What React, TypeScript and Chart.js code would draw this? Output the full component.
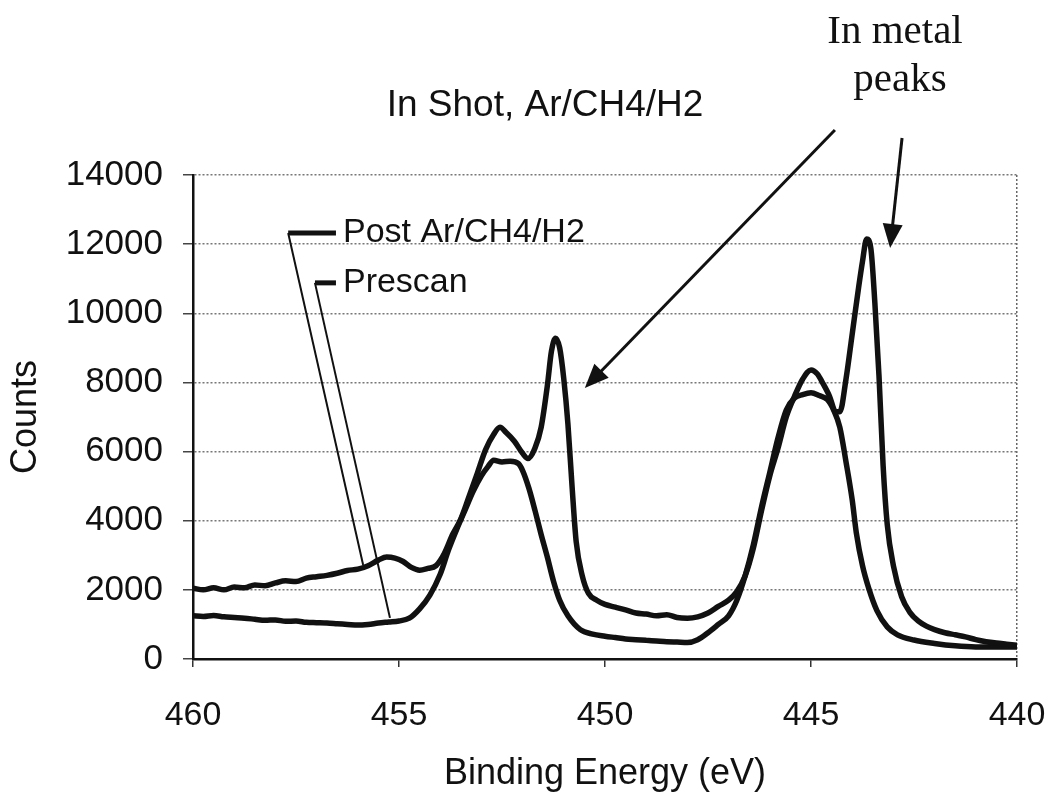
import React, { useEffect, useRef } from "react";
import { Chart, registerables } from "chart.js";

Chart.register(...registerables);

// Binding energy (eV) and counts
const postEnergy = [
  460.0, 459.75, 459.5, 459.25, 459.0, 458.75, 458.5, 458.25, 458.0, 457.75, 457.5, 457.25, 457.0,
  456.75, 456.5, 456.25, 456.0, 455.75, 455.5, 455.3, 455.1, 454.9, 454.7, 454.5, 454.3, 454.1,
  453.9, 453.7, 453.5, 453.3, 453.1, 452.9, 452.7, 452.55, 452.4, 452.2, 452.0, 451.87, 451.7,
  451.55, 451.4, 451.3, 451.2, 451.1, 451.0, 450.9, 450.8, 450.7, 450.55, 450.4, 450.2, 450.0,
  449.75, 449.5, 449.25, 449.0, 448.75, 448.5, 448.25, 448.0, 447.75, 447.5, 447.25, 447.0, 446.8,
  446.6, 446.4, 446.2, 446.0, 445.8, 445.6, 445.4, 445.2, 445.0, 444.85, 444.7, 444.55, 444.4,
  444.3, 444.15, 444.0, 443.85, 443.75, 443.65, 443.55, 443.45, 443.35, 443.25, 443.15, 443.0,
  442.8, 442.6, 442.4, 442.2, 442.0, 441.75, 441.5, 441.25, 441.0, 440.75, 440.5, 440.25, 440.0,
];
const postCounts = [
  2050, 2000, 2060, 2000, 2080, 2060, 2140, 2120, 2200, 2260, 2240, 2340, 2380,
  2420, 2480, 2560, 2600, 2700, 2860, 2950, 2920, 2820, 2650, 2570, 2620, 2700,
  3050, 3600, 4050, 4700, 5370, 6050, 6500, 6700, 6550, 6300, 5950, 5800, 6100,
  6700, 7900, 8900, 9280, 9000, 8100, 6800, 5000, 3400, 2400, 1900, 1700, 1580,
  1500, 1420, 1330, 1300, 1250, 1280, 1200, 1180, 1220, 1330, 1520, 1700, 1950,
  2400, 3200, 4300, 5300, 6100, 7000, 7600, 8100, 8360, 8250, 7950, 7600, 7150,
  7150, 8100, 9400, 10700, 11500, 12150, 11900, 10300, 8200, 5600, 3900, 2700,
  1800, 1350, 1100, 950, 850, 760, 700, 640, 560, 500, 460, 430, 400,
];

const preEnergy = [
  460.0, 459.75, 459.5, 459.25, 459.0, 458.75, 458.5, 458.25, 458.0, 457.75, 457.5, 457.25, 457.0,
  456.75, 456.5, 456.25, 456.0, 455.75, 455.5, 455.25, 455.0, 454.75, 454.5, 454.25, 454.0, 453.8,
  453.6, 453.4, 453.2, 453.0, 452.85, 452.7, 452.5, 452.3, 452.1, 452.0, 451.85, 451.7, 451.55,
  451.4, 451.25, 451.1, 450.9, 450.6, 450.3, 450.0, 449.75, 449.5, 449.25, 449.0, 448.75, 448.5,
  448.25, 448.0, 447.75, 447.5, 447.25, 447.0, 446.8, 446.6, 446.4, 446.2, 446.0, 445.8, 445.6,
  445.4, 445.2, 445.0, 444.8, 444.6, 444.45, 444.3, 444.15, 444.0, 443.9, 443.75, 443.6, 443.4,
  443.15, 442.9, 442.5, 442.0, 441.5, 441.0, 440.5, 440.0,
];
const preCounts = [
  1250, 1230, 1260, 1220, 1200, 1180, 1150, 1120, 1130, 1090, 1100, 1060, 1050,
  1040, 1020, 1000, 980, 1000, 1040, 1070, 1100, 1180, 1450, 1850, 2450, 3150,
  3750, 4300, 4850, 5300, 5550, 5750, 5700, 5720, 5650, 5450, 4950, 4300, 3600,
  2950, 2250, 1700, 1250, 850, 720, 660, 620, 580, 560, 540, 520, 500,
  490, 480, 560, 760, 1000, 1250, 1700, 2400, 3300, 4400, 5400, 6400, 7200,
  7550, 7650, 7700, 7620, 7500, 7200, 6700, 5700, 4600, 3650, 2700, 2050, 1400,
  930, 700, 550, 450, 380, 350, 350, 350,
];

const seriesNames = ["Post Ar/CH4/H2", "Prescan"];
const xTicks = [460, 455, 450, 445, 440];
const yTicks = [0, 2000, 4000, 6000, 8000, 10000, 12000, 14000];

const chartTitle = "In Shot, Ar/CH4/H2";
const noteLines = ["In metal", "peaks"];
const xTitle = "Binding Energy (eV)";
const yTitle = "Counts";

const SANS = "'Liberation Sans', Arial, sans-serif";
const SERIF = "'Liberation Serif', 'Times New Roman', serif";

const annotations = {
  id: "annotations",
  afterDatasetsDraw(chart: any) {
    const ctx = chart.ctx as CanvasRenderingContext2D;
    const xs = chart.scales.x;
    const ys = chart.scales.y;
    const px = (v: number) => xs.getPixelForValue(v);
    const py = (v: number) => ys.getPixelForValue(v);
    ctx.save();
    ctx.fillStyle = "#111";
    ctx.strokeStyle = "#111";

    // legend entries with leader lines
    const legend = [
      { name: seriesNames[0], sx: 457.69, sy: 12320, ex: 455.87, ey: 2720 },
      { name: seriesNames[1], sx: 457.04, sy: 10880, ex: 455.22, ey: 1190 },
    ];
    const segEnd = 456.53;
    legend.forEach((l) => {
      const x0 = px(l.sx);
      const y0 = py(l.sy);
      ctx.lineWidth = 2;
      ctx.beginPath();
      ctx.moveTo(x0, y0);
      ctx.lineTo(px(l.ex), py(l.ey));
      ctx.stroke();
      ctx.lineWidth = 5;
      ctx.beginPath();
      ctx.moveTo(x0, y0);
      ctx.lineTo(px(segEnd), y0);
      ctx.stroke();
      ctx.font = `34px ${SANS}`;
      ctx.textAlign = "left";
      ctx.textBaseline = "middle";
      ctx.fillText(l.name, px(segEnd) + 7, y0);
    });

    // arrows
    const arrow = (x1: number, y1: number, x2: number, y2: number) => {
      const ang = Math.atan2(y2 - y1, x2 - x1);
      const L = 24;
      const W = 10;
      ctx.lineWidth = 3;
      ctx.beginPath();
      ctx.moveTo(x1, y1);
      ctx.lineTo(x2 - Math.cos(ang) * L * 0.8, y2 - Math.sin(ang) * L * 0.8);
      ctx.stroke();
      ctx.beginPath();
      ctx.moveTo(x2, y2);
      ctx.lineTo(
        x2 - Math.cos(ang) * L - Math.sin(ang) * W,
        y2 - Math.sin(ang) * L + Math.cos(ang) * W
      );
      ctx.lineTo(
        x2 - Math.cos(ang) * L + Math.sin(ang) * W,
        y2 - Math.sin(ang) * L - Math.cos(ang) * W
      );
      ctx.closePath();
      ctx.fill();
    };
    arrow(px(444.42), py(15300), px(450.49), py(7840));
    arrow(px(442.79), py(15070), px(443.08), py(11890));

    // titles
    ctx.textAlign = "center";
    ctx.textBaseline = "middle";
    ctx.font = `37px ${SANS}`;
    ctx.fillText(chartTitle, 545, 106);
    ctx.font = `41px ${SERIF}`;
    ctx.fillText(noteLines[0], 895, 32);
    ctx.fillText(noteLines[1], 900, 80);
    ctx.restore();
  },
};

export default function App() {
  const canvasRef = useRef<HTMLCanvasElement | null>(null);

  useEffect(() => {
    const canvas = canvasRef.current;
    if (!canvas) return;
    const lineStyle = {
      borderColor: "#111",
      borderWidth: 5.5,
      pointRadius: 0,
      cubicInterpolationMode: "monotone" as const,
    };
    const chart = new Chart(canvas, {
      type: "line",
      data: {
        datasets: [
          {
            label: seriesNames[0],
            data: postEnergy.map((e, i) => ({ x: e, y: postCounts[i] })),
            ...lineStyle,
          },
          {
            label: seriesNames[1],
            data: preEnergy.map((e, i) => ({ x: e, y: preCounts[i] })),
            ...lineStyle,
          },
        ],
      },
      options: {
        animation: false,
        responsive: false,
        maintainAspectRatio: false,
        layout: { padding: { top: 175, right: 31, bottom: 0, left: 0 } },
        plugins: {
          legend: { display: false },
          tooltip: { enabled: false },
          title: { display: false },
        },
        scales: {
          x: {
            type: "linear",
            reverse: true,
            min: 440,
            max: 460,
            afterBuildTicks: (s: any) => {
              s.ticks = xTicks.map((v) => ({ value: v }));
            },
            afterFit: (s: any) => {
              s.height = 141;
              s.paddingLeft = 0;
              s.paddingRight = 0;
            },
            grid: {
              drawOnChartArea: true,
              color: (c: any) => (c.tick && c.tick.value === 440 ? "#666" : "rgba(0,0,0,0)"),
              lineWidth: 1.5,
              tickColor: "#333",
              tickLength: 8,
              tickWidth: 1.5,
            },
            border: { display: true, color: "#111", width: 2.5, dash: [2, 2] },
            ticks: {
              color: "#111",
              padding: 28,
              font: { family: SANS, size: 34 },
              callback: (v: any) => String(v),
            },
            title: {
              display: true,
              text: xTitle,
              color: "#111",
              font: { family: SANS, size: 36 },
              padding: { top: 0, bottom: 4 },
            },
          },
          y: {
            min: 0,
            max: 14000,
            afterBuildTicks: (s: any) => {
              s.ticks = yTicks.map((v) => ({ value: v }));
            },
            afterFit: (s: any) => {
              s.width = 193;
              s.paddingTop = 0;
              s.paddingBottom = 0;
            },
            grid: {
              color: "#777",
              lineWidth: 1.5,
              tickColor: "#444",
              tickLength: 10,
              tickWidth: 1.5,
            },
            border: { display: true, color: "#111", width: 2.5, dash: [2, 2] },
            ticks: {
              color: "#111",
              padding: 20,
              font: { family: SANS, size: 35 },
              callback: (v: any) => String(v),
            },
            title: {
              display: true,
              text: yTitle,
              color: "#111",
              font: { family: SANS, size: 36 },
              padding: { top: 4, bottom: 0 },
            },
          },
        },
      },
      plugins: [annotations],
    });
    return () => chart.destroy();
  }, []);

  return (
    <div style={{ position: "absolute", left: 0, top: 0, width: 1048, height: 800, background: "#fff" }}>
      <canvas ref={canvasRef} width={1048} height={800} style={{ display: "block" }} />
    </div>
  );
}
